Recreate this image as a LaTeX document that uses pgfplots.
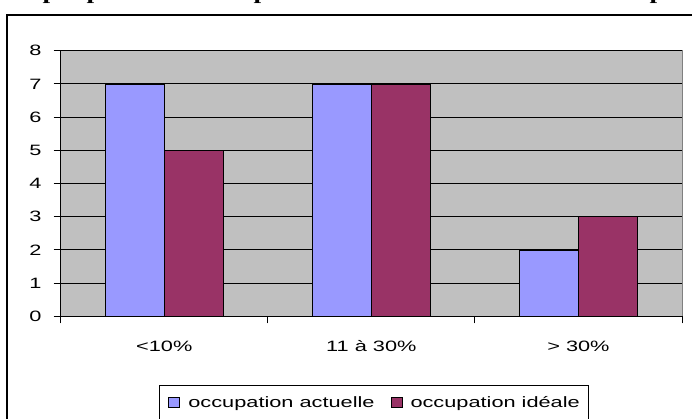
\documentclass[border=0pt]{standalone}
\usepackage{fontspec}
\setmainfont{Liberation Sans}[FakeStretch=1.45]
\newfontfamily\titlefont{Liberation Serif Bold}[FakeStretch=1.45]
\usepackage{pgfplots}
\pgfplotsset{compat=1.18}
\definecolor{barblue}{HTML}{9999FF}
\definecolor{barred}{HTML}{993366}
\definecolor{plotgray}{HTML}{C0C0C0}
\definecolor{bordergray}{HTML}{808080}
\begin{document}
\begin{tikzpicture}
\fontsize{15}{18}\selectfont
\useasboundingbox (0pt,0pt) rectangle (692pt,418pt);
% chart area frame
\draw[line width=2.2pt] (7.3pt,-20pt) -- (7.3pt,403pt) -- (720pt,403pt);
% clipped title (only descenders visible)
\foreach \xx in {42.5,86.5,253.5,649.5}{
  \node[anchor=base west, inner sep=0pt] at (\xx pt,418pt) {\titlefont\fontsize{19}{22}\selectfont p};
}
\begin{axis}[
  at={(60.7pt,101.7pt)}, anchor=south west,
  width=621.3pt, height=265.6pt, scale only axis,
  xmin=-0.5, xmax=2.5, ymin=0, ymax=8,
  ytick={0,1,...,8},
  xtick={-0.5,0.5,1.5,2.5}, xticklabels={},
  extra x ticks={0,1,2},
  extra x tick labels={{<10\%},{11 à 30\%},{> 30\%}},
  extra x tick style={major tick length=0pt, xticklabel style={anchor=base, inner sep=0pt, yshift=-35pt}},
  axis lines*=left,
  axis line style={black, line width=1.2pt},
  axis background/.style={fill=plotgray, draw=bordergray, line width=1pt},
  tick align=outside,
  major tick length=7pt,
  tick style={black, line width=1pt},
  ymajorgrids,
  major grid style={black, line width=0.9pt},
  /pgf/number format/assume math mode=true,
  yticklabel style={anchor=east, inner sep=0pt, xshift=-12pt},
  ticklabel style={font=\fontsize{15}{18}\selectfont},
  ybar=0pt, bar width=59pt,
  legend columns=2,
  legend style={at={(0.1582,-0.2587)}, anchor=north west,
    draw=black, line width=1pt, fill=white,
    inner xsep=9pt, inner ysep=10.7pt,
    nodes={inner xsep=0pt, inner ysep=0pt},
    font=\fontsize{15}{18}\selectfont,
    /tikz/every odd column/.append style={column sep=8pt},
    /tikz/every even column/.append style={column sep=16pt},
    cells={anchor=west}},
  legend image code/.code={\draw[#1, draw=black, line width=0.9pt] (0pt,-5pt) rectangle (11pt,5pt);},
]
\addplot[fill=barblue, draw=black, line width=1.2pt] coordinates {(0,7) (1,7) (2,2)};
\addplot[fill=barred, draw=black, line width=1.2pt] coordinates {(0,5) (1,7) (2,3)};
\legend{occupation actuelle, occupation idéale}
\end{axis}
\end{tikzpicture}
\end{document}
